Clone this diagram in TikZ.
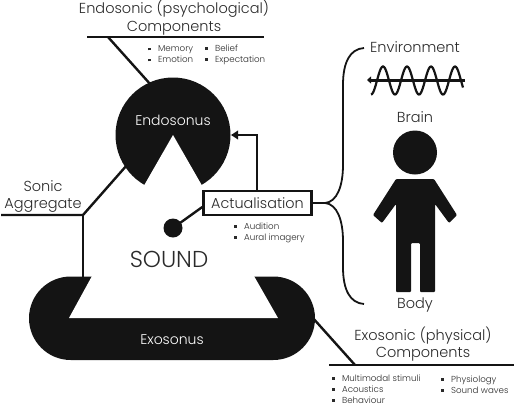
\documentclass[tikz,border=0pt]{standalone}
\usepackage{fontspec}
\setmainfont{Poppins}[UprightFont={* Light}]
\usetikzlibrary{arrows.meta}
\definecolor{ink}{HTML}{141414}
\definecolor{txt}{HTML}{2A2A2A}
\newcommand{\bul}{\rule[1.5pt]{2.8pt}{2.8pt}\hspace{7.6pt}}
\tikzset{
  lab/.style={text=txt,font=\fontsize{14.5}{18}\selectfont,align=center,inner sep=0pt},
  small/.style={text=txt,font=\fontsize{8.7}{11}\selectfont,align=left,inner sep=0pt,anchor=west},
  inv/.style={text=white,font=\fontsize{14}{16}\selectfont,inner sep=0pt},
  ln/.style={draw=ink,line width=2.4pt},
  brace ln/.style={draw=ink,line width=1.8pt},
}
\begin{document}
\begin{tikzpicture}[x=1pt,y=-1pt]
\useasboundingbox (0,0) rectangle (514,405);
% coordinates
\coordinate (endoTopL) at (87,37);
\coordinate (endoTopR) at (264,37);
\coordinate (endoJ) at (108,37);
\coordinate (endoC) at (151,85);
\coordinate (sonL) at (1,215);
\coordinate (sonJ) at (83,215);
\coordinate (sonE) at (127,165);
\coordinate (sonB) at (83,278);
\coordinate (exoL) at (329,365);
\coordinate (exoR) at (514,365);
\coordinate (exoJ) at (355,365);
\coordinate (exoC) at (312,317);
\coordinate (dot) at (173,228);
\coordinate (arrT) at (231,135);
\coordinate (arrK) at (257,135);
\coordinate (braceS) at (325,203);
\coordinate (braceT) at (364,48);
\coordinate (braceB) at (364,304);
% connectors behind shapes
\draw[ln] (endoTopL) -- (endoTopR);
\draw[ln] (endoJ) -- (endoC);
\draw[ln] (sonL) -- (sonJ) -- (sonE);
\draw[ln] (sonJ) -- (sonB);
\draw[ln] (exoL) -- (exoR);
\draw[ln] (exoJ) -- (exoC);
% Endosonus
\fill[ink] (173,135) circle[radius=57.5];
\fill[white] (173,135) -- (138,196) -- (208,196) -- cycle;
% Exosonus
\fill[ink,rounded corners=41.7pt] (29,276.5) rectangle (315,360);
\fill[white] (92,276) -- (69,318) -- (278,318) -- (254,276) -- cycle;
% Actualisation
\node[draw=ink,line width=2.4pt,fill=white,minimum width=108pt,minimum height=24pt,inner sep=0pt,text=txt,font=\fontsize{14.4}{16}\selectfont] (act) at (257.5,203) {Actualisation};
\fill[ink] (dot) circle[radius=9.5];
\draw[ln] (dot) -- (act.west |- 0,207);
\draw[ln,-{Triangle[length=7pt,width=8.5pt]}] (act.north -| arrK) -- (arrK) -- (arrT);
% brace
\draw[ln] (act.east) -- (braceS);
\draw[brace ln] (braceS) .. controls (337,202) and (343,186) .. (343,165) -- (343,85) .. controls (343,62) and (350,49) .. (braceT);
\draw[brace ln] (braceS) .. controls (337,204) and (343,220) .. (343,241) -- (343,267) .. controls (343,290) and (350,303) .. (braceB);
% wave
\draw[draw=ink,line width=2.2pt] plot[domain=371:463,samples=120,smooth] (\x,{80.5-14*sin((\x-377)*15)});
\coordinate (wR) at (465,80);
\coordinate (wL) at (367,80);
\draw[draw=ink,line width=3pt,-{Triangle[length=4pt,width=7pt]}] (wR) -- (wL);
% person
\fill[ink] (415,152.5) circle[radius=22];
\fill[ink,rounded corners=1pt] (396,179) -- (434,179) -- (457,215) -- (449,223) -- (435,204) -- (435,292) -- (420,292) -- (420,243) -- (411,243) -- (411,292) -- (396,292) -- (396,204) -- (382,223) -- (373,215) -- cycle;
% texts
\node[lab] (t1) at (174,17.5) {Endosonic (psychological)\\[-0.5pt]Components};
\node[small] (m1) at (147.5,54.5) {\bul Memory\\\bul Emotion};
\node[small] (m2) at (204.5,54.5) {\bul Belief\\\bul Expectation};
\node[inv] (en) at (173,120) {Endosonus};
\node[lab] (sa) at (43,196.5) {Sonic\\[-0.5pt]Aggregate};
\node[small] (au) at (233.5,232.5) {\bul Audition\\\bul Aural imagery};
\node[text=txt,font=\fontsize{23}{26}\selectfont,inner sep=0pt] (so) at (169,259) {SOUND};
\node[inv] (ex) at (172,340) {Exosonus};
\node[lab] (env) at (415,47) {Environment};
\node[lab] (br) at (415,117) {Brain};
\node[lab] (bo) at (415,305) {Body};
\node[lab] (t2) at (423,344) {Exosonic (physical)\\[-0.5pt]Components};
\node[small] (b1) at (331.5,389) {\bul Multimodal stimuli\\\bul Acoustics\\\bul Behaviour};
\node[small] (b2) at (440.5,384.5) {\bul Physiology\\\bul Sound waves};
\end{tikzpicture}
\end{document}
